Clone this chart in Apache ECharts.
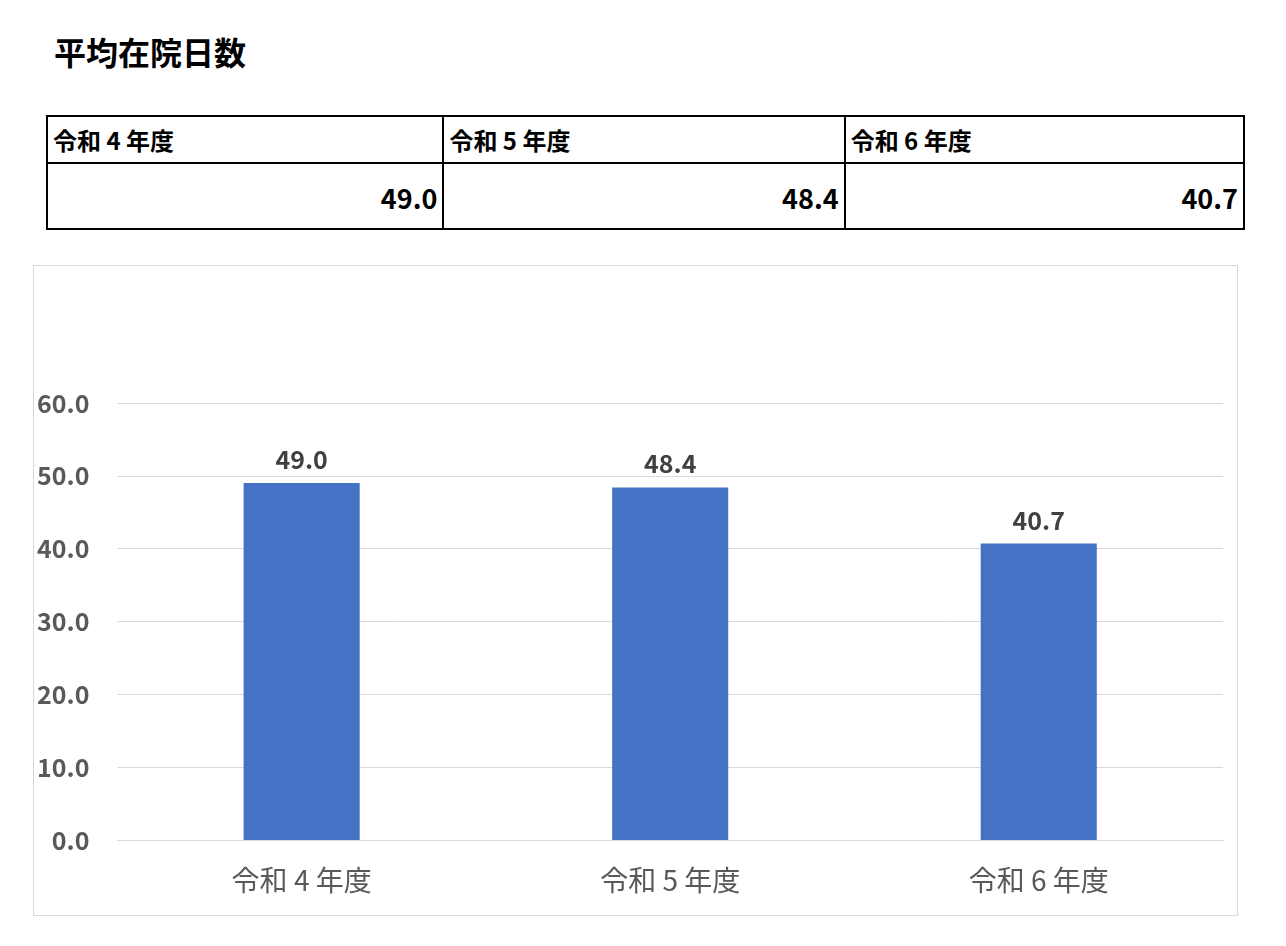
<!DOCTYPE html>
<html>
<head>
<meta charset="utf-8">
<script src="https://cdn.jsdelivr.net/npm/echarts@6/dist/echarts.min.js"></script>
<style>
  body { margin: 0; background: #fff; font-family: "Noto Sans CJK JP", "Noto Sans", sans-serif; }
  #title { position: absolute; left: 54px; top: 30px; font-size: 32px; font-weight: bold; color: #000; margin: 0; line-height: 42px; }
  #tbl { position: absolute; left: 46px; top: 115px; width: 1199px; border-collapse: collapse; }
  #tbl td { border: 2px solid #000; padding: 0 5px; color: #000; font-weight: bold; }
  #tbl tr.h td { height: 45px; font-size: 24px; text-align: left; }
  #tbl tr.v td { height: 62px; font-size: 27px; text-align: right; padding-top: 2px; }
  #chart { position: absolute; left: 33px; top: 265px; width: 1203px; height: 649px; border: 1px solid #d9d9d9; }
</style>
</head>
<body>
<div id="title">平均在院日数</div>
<table id="tbl"><tr class="h"></tr><tr class="v"></tr></table>
<div id="chart"></div>
<script>
var years = ['令和 4 年度', '令和 5 年度', '令和 6 年度'];
var stayDays = [49.0, 48.4, 40.7];

var yTicks = { min: 0, max: 60, interval: 10 };

// 上の表
var colW = [397, 402, 400];
var hRow = document.querySelector('#tbl tr.h');
var vRow = document.querySelector('#tbl tr.v');
for (var i = 0; i < years.length; i++) {
  var th = document.createElement('td');
  th.style.width = colW[i] + 'px';
  th.textContent = years[i];
  hRow.appendChild(th);
  var tv = document.createElement('td');
  tv.textContent = stayDays[i].toFixed(1);
  vRow.appendChild(tv);
}

var chart = echarts.init(document.getElementById('chart'));
chart.setOption({
  animation: false,
  grid: { left: 83, right: 14, top: 137, bottom: 75, containLabel: false },
  xAxis: {
    type: 'category',
    data: years,
    axisLine: { show: true, lineStyle: { color: '#d9d9d9' } },
    axisTick: { show: false },
    axisLabel: {
      color: '#595959', fontSize: 28, margin: 26,
      fontFamily: 'Noto Sans CJK JP'
    }
  },
  yAxis: {
    type: 'value',
    min: yTicks.min, max: yTicks.max, interval: yTicks.interval,
    axisLine: { show: false },
    axisTick: { show: false },
    splitLine: { lineStyle: { color: '#d9d9d9', width: 1 } },
    axisLabel: {
      color: '#595959', fontSize: 25, fontWeight: 'bold', margin: 28,
      fontFamily: 'Noto Sans CJK JP',
      formatter: function (v) { return v.toFixed(1); }
    }
  },
  series: [{
    type: 'bar',
    data: stayDays,
    barWidth: '31.5%',
    itemStyle: { color: '#4472c4' },
    label: {
      show: true, position: 'top', distance: 11,
      color: '#404040', fontSize: 25, fontWeight: 'bold',
      fontFamily: 'Noto Sans CJK JP',
      formatter: function (p) { return p.value.toFixed(1); }
    }
  }]
});
</script>
</body>
</html>
